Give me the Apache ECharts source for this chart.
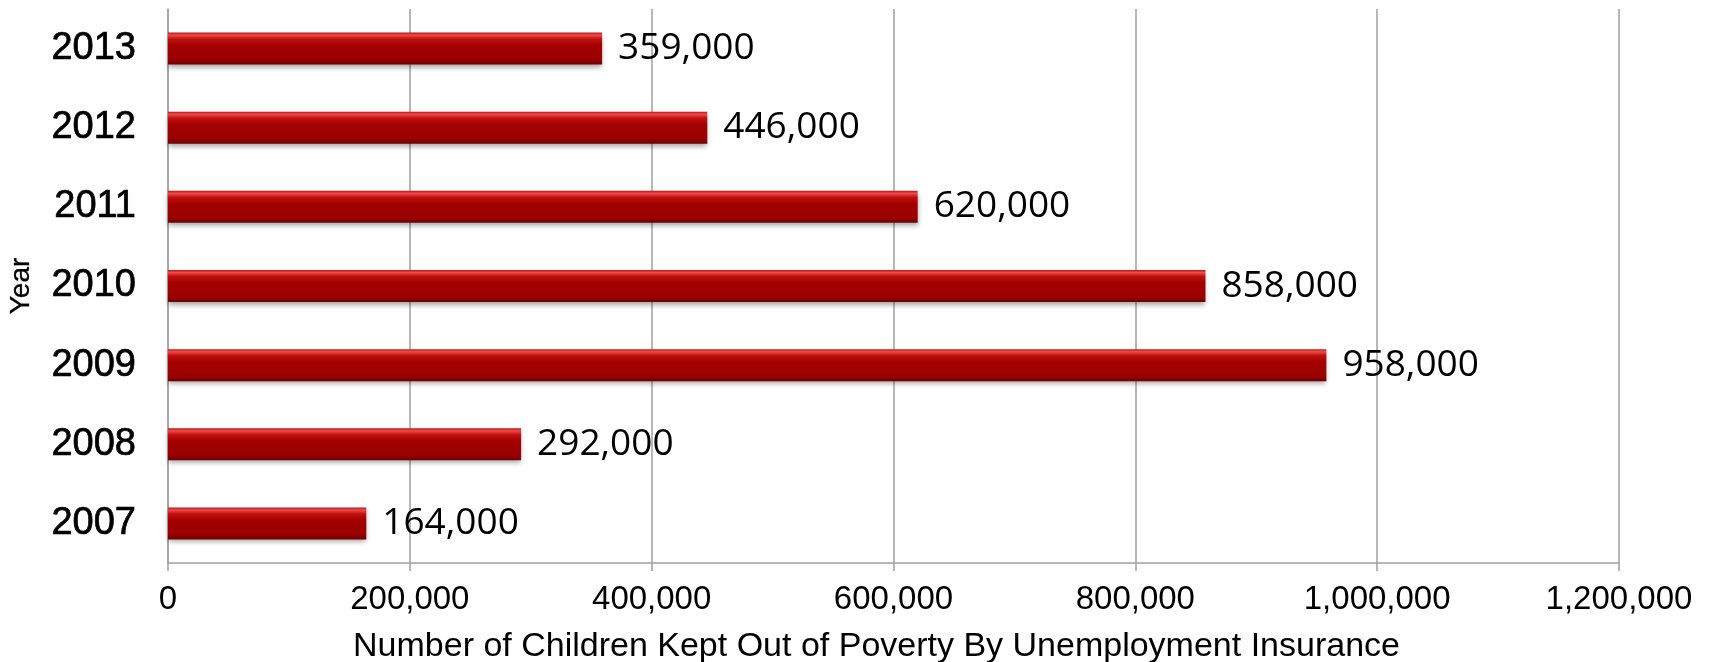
<!DOCTYPE html>
<html><head><meta charset="utf-8">
<script src="https://cdn.jsdelivr.net/npm/echarts@6/dist/echarts.min.js"></script>
<style>html,body{margin:0;padding:0;background:#fff}#c{width:1710px;height:662px}</style>
</head><body><div id="c"></div>
<script>
const years = ['2007','2008','2009','2010','2011','2012','2013'];
const children = [164000, 292000, 958000, 858000, 620000, 446000, 359000];
const xTicks = [0, 200000, 400000, 600000, 800000, 1000000, 1200000];
const xTitle = 'Number of Children Kept Out of Poverty By Unemployment Insurance';
const yTitle = 'Year';

const fmt = v => Number(v).toLocaleString('en-US');
const chart = echarts.init(document.getElementById('c'));
chart.setOption({
  animation: false,
  grid: { left: 168, right: 91, top: 9, bottom: 99, containLabel: false, outerBoundsMode: 'none' },
  xAxis: {
    type: 'value', min: xTicks[0], max: xTicks[xTicks.length-1], interval: xTicks[1]-xTicks[0],
    name: xTitle, nameLocation: 'middle', nameGap: 67,
    nameTextStyle: { fontFamily: 'Liberation Sans Narrow, Liberation Sans, Arial', fontSize: 34, color: '#000', padding: [0, 34, 0, 0] },
    axisLine: { show: true, lineStyle: { color: '#a0a0a0', width: 1.5 } },
    axisTick: { show: true, length: 8, lineStyle: { color: '#a0a0a0', width: 1.5 } },
    axisLabel: { formatter: fmt, fontFamily: 'Liberation Sans Narrow, Liberation Sans, Arial', fontSize: 33, color: '#000', margin: 20 },
    splitLine: { show: true, lineStyle: { color: '#a0a0a0', width: 1.5 } }
  },
  yAxis: {
    type: 'category', data: years,
    name: yTitle, nameLocation: 'middle', nameGap: 133, nameRotate: 90,
    nameTextStyle: { fontFamily: 'Liberation Sans', fontSize: 28, color: '#000', textBorderColor: '#000', textBorderWidth: 0.3 },
    axisLine: { show: true, lineStyle: { color: '#a0a0a0', width: 1.5 } },
    axisTick: { show: false },
    axisLabel: { fontFamily: 'Liberation Sans', fontSize: 38, color: '#000', margin: 32, textBorderColor: '#000', textBorderWidth: 0.7 }
  },
  series: [{
    type: 'bar', data: children, barWidth: 32,
    itemStyle: {
      color: new echarts.graphic.LinearGradient(0, 0, 0, 1, [
        { offset: 0, color: '#b81818' },
        { offset: 0.08, color: '#f04a4a' },
        { offset: 0.2, color: '#c01010' },
        { offset: 0.4, color: '#a40000' },
        { offset: 0.85, color: '#9a0000' },
        { offset: 1, color: '#6a0000' }
      ]),
      shadowColor: 'rgba(0,0,0,0.35)', shadowBlur: 5, shadowOffsetY: 3
    },
    label: {
      show: true, position: 'right', distance: 16, formatter: p => fmt(p.value),
      fontFamily: 'Open Sans', fontSize: 37, color: '#000'
    }
  }]
});
</script></body></html>
